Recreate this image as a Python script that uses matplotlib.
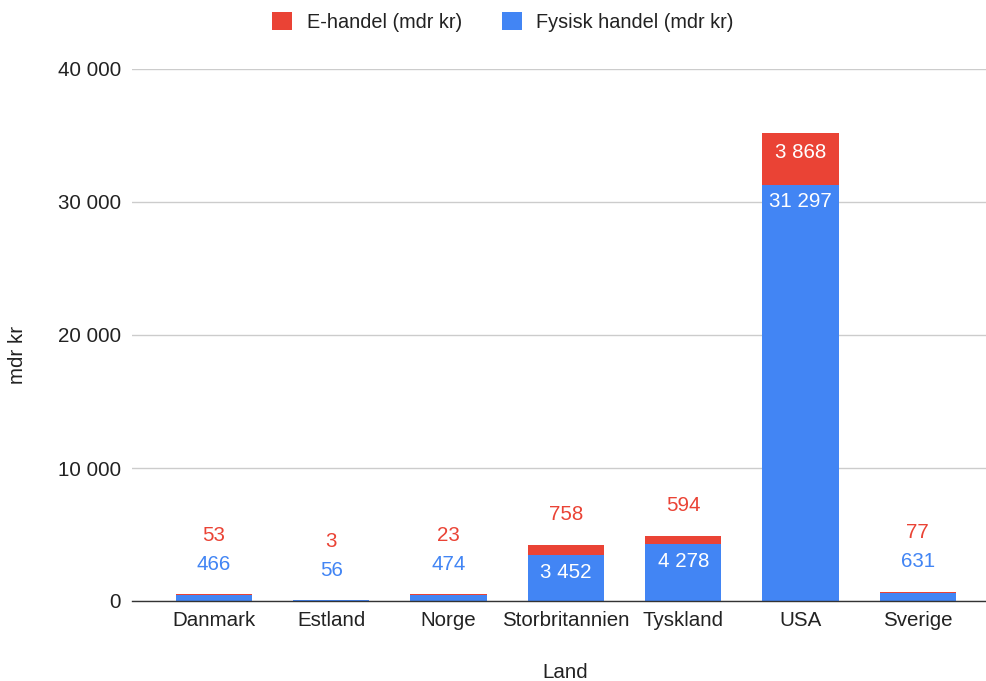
import matplotlib
matplotlib.use("Agg")
import matplotlib.pyplot as plt
from matplotlib.patches import Patch
from matplotlib.ticker import FuncFormatter

plt.rcParams['font.family'] = ['Liberation Sans', 'DejaVu Sans']

countries = ["Danmark", "Estland", "Norge", "Storbritannien", "Tyskland", "USA", "Sverige"]
fysisk = [466, 56, 474, 3452, 4278, 31297, 631]
ehandel = [53, 3, 23, 758, 594, 3868, 77]
yticks = [0, 10000, 20000, 30000, 40000]

RED = "#EA4335"
BLUE = "#4285F4"
DPI = 100
FS = 14.8

fig = plt.figure(figsize=(987 / DPI, 681 / DPI), dpi=DPI)
ax = fig.add_axes([132 / 987, 1 - 601 / 681, 1 - 132 / 987, (601 - 69) / 681])

x = list(range(len(countries)))
width = 0.65
ax.bar(x, fysisk, width=width, color=BLUE, zorder=3)
ax.bar(x, ehandel, width=width, bottom=fysisk, color=RED, zorder=3)


def fmt(v):
    return f"{v:,}".replace(",", " ")


scale = 532 / 40000  # pixels per unit
for i, (f, e) in enumerate(zip(fysisk, ehandel)):
    top = f + e
    if f * scale > 30:
        # labels inside the segments
        ax.annotate(fmt(f), (i, f), xytext=(0, -17), textcoords="offset pixels",
                    ha="center", va="center", color="white", fontsize=FS, zorder=4)
        if e * scale > 30:
            ax.annotate(fmt(e), (i, top), xytext=(0, -19), textcoords="offset pixels",
                        ha="center", va="center", color="white", fontsize=FS, zorder=4)
        else:
            ax.annotate(fmt(e), (i, top), xytext=(0, 31), textcoords="offset pixels",
                        ha="center", va="center", color=RED, fontsize=FS, zorder=4)
    else:
        ax.annotate(fmt(f), (i, top), xytext=(0, 30), textcoords="offset pixels",
                    ha="center", va="center", color=BLUE, fontsize=FS, zorder=4)
        ax.annotate(fmt(e), (i, top), xytext=(0, 59), textcoords="offset pixels",
                    ha="center", va="center", color=RED, fontsize=FS, zorder=4)

spacing = 117.3
left = -(214 - 132) / spacing
right = left + (987 - 132) / spacing
ax.set_xlim(left, right)
ax.set_ylim(0, 40000)
ax.set_yticks(yticks)
ax.yaxis.set_major_formatter(FuncFormatter(lambda v, p: fmt(int(v))))
ax.set_xticks(x)
ax.set_xticklabels(countries)
ax.tick_params(axis="both", length=0, labelsize=FS, colors="#222222")
ax.tick_params(axis="y", pad=8)
ax.tick_params(axis="x", pad=7)

ax.grid(axis="y", color="#cccccc", linewidth=1, zorder=0)
for s in ["top", "right", "left"]:
    ax.spines[s].set_visible(False)
ax.spines["bottom"].set_color("#333333")
ax.spines["bottom"].set_linewidth(1)
ax.spines["bottom"].set_zorder(5)

fig.text(565 / 987, 1 - 672 / 681, "Land", ha="center", va="center", fontsize=FS, color="#222222")
fig.text(18 / 987, 1 - 355 / 681, "mdr kr", ha="center", va="center", rotation=90,
         fontsize=FS, color="#222222")

handles = [Patch(facecolor=RED, label="E-handel (mdr kr)"),
           Patch(facecolor=BLUE, label="Fysisk handel (mdr kr)")]
fig.legend(handles=handles, loc="center", bbox_to_anchor=(503 / 987, 1 - 22 / 681), ncol=2,
           frameon=False, fontsize=14.3, handlelength=1.0, handleheight=1.0,
           handletextpad=0.75, columnspacing=2.0, labelcolor="#222222")

fig.savefig("out.png", dpi=DPI)
